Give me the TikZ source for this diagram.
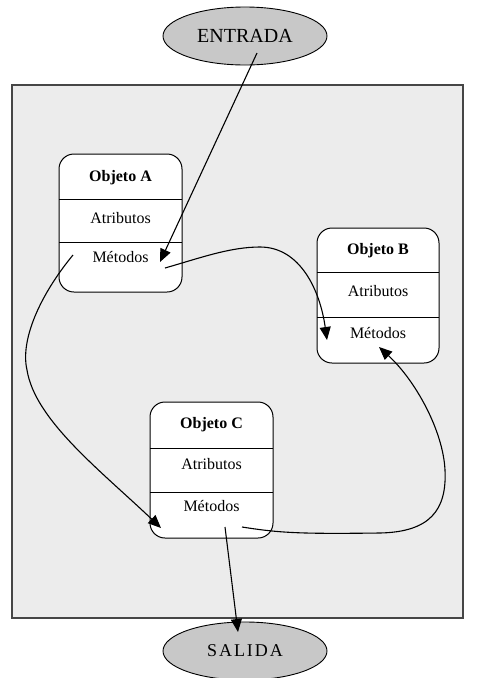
\documentclass[tikz,border=0pt]{standalone}
\usepackage{fontspec}
\setmainfont{Liberation Serif}
\usetikzlibrary{arrows.meta,shapes.geometric}
\definecolor{panelgray}{RGB}{236,236,236}
\definecolor{ovalgray}{RGB}{200,200,200}
\definecolor{edgegray}{RGB}{70,70,70}
\tikzset{
  panel/.style={draw=edgegray, line width=1.4pt, fill=panelgray},
  oval/.style={ellipse, draw, line width=0.9pt, fill=ovalgray, inner sep=0pt},
  ovaltext/.style={font=\fontsize{20}{20}\selectfont},
  objbox/.style={draw, line width=1pt, fill=white, rounded corners=15pt, inner sep=0pt},
  divider/.style={line width=1pt},
  title/.style={font=\fontsize{16}{16}\selectfont\bfseries},
  member/.style={font=\fontsize{16}{16}\selectfont},
  flow/.style={line width=1.1pt, -{Triangle[length=13pt,width=11pt]}},
}
\begin{document}
\begin{tikzpicture}[x=1pt, y=-1pt]
\useasboundingbox (0,0) rectangle (478,678);

% background panel
\draw[panel] (12,85) rectangle (463,618);

% input / output ovals
\node[oval, minimum width=164, minimum height=58] (in) at (245,36) {};
\node[ovaltext] (intext) at (245,36) {ENTRADA};
\node[oval, minimum width=164, minimum height=58] (out) at (245,651) {};
\node[ovaltext, font=\fontsize{18}{18}\selectfont] (outtext) at (245,651)
  {S\kern2pt A\kern2pt L\kern2pt I\kern2pt D\kern2pt A};

% object A
\node[objbox, minimum width=123, minimum height=138] (A) at (120.5,223) {};
\draw[divider] (59,199) -- (182,199);
\draw[divider] (59,242) -- (182,242);
\node[title]  (At) at (120.5,178) {Objeto A};
\node[member] (Aa) at (120.5,218) {Atributos};
\node[member] (Am) at (120.5,257) {Métodos};

% object B
\node[objbox, minimum width=122, minimum height=135] (B) at (378,295.5) {};
\draw[divider] (317,272) -- (439,272);
\draw[divider] (317,317) -- (439,317);
\node[title]  (Bt) at (378,251) {Objeto B};
\node[member] (Ba) at (378,291) {Atributos};
\node[member] (Bm) at (378,333) {Métodos};

% object C
\node[objbox, minimum width=123, minimum height=136] (C) at (211.5,470) {};
\draw[divider] (150,448) -- (273,448);
\draw[divider] (150,492) -- (273,492);
\node[title]  (Ct) at (211.5,425) {Objeto C};
\node[member] (Ca) at (211.5,464) {Atributos};
\node[member] (Cm) at (211.5,506) {Métodos};

% connector end points
\coordinate (s1) at (257,53);
\coordinate (e1) at (160,262);
\coordinate (s2) at (165,268);
\coordinate (e2) at (327,340);
\coordinate (s3) at (242,527);
\coordinate (e3) at (379,347);
\coordinate (s4) at (73,255);
\coordinate (e4) at (161,528);
\coordinate (s5) at (225,527);
\coordinate (e5) at (238,632);

% message flow
\draw[flow] (s1) -- (e1);
\draw[flow] (s2) .. controls (200,258) and (230,247) .. (260,247)
                 .. controls (300,247) and (320,290) .. (e2);
\draw[flow] (s3) .. controls (280,533) and (300,534) .. (380,533)
                 .. controls (430,532) and (447,510) .. (445,470)
                 .. controls (443,430) and (415,380) .. (e3);
\draw[flow] (s4) .. controls (40,295) and (20,340) .. (27,370)
                 .. controls (35,420) and (100,470) .. (e4);
\draw[flow] (s5) -- (e5);
\end{tikzpicture}
\end{document}
